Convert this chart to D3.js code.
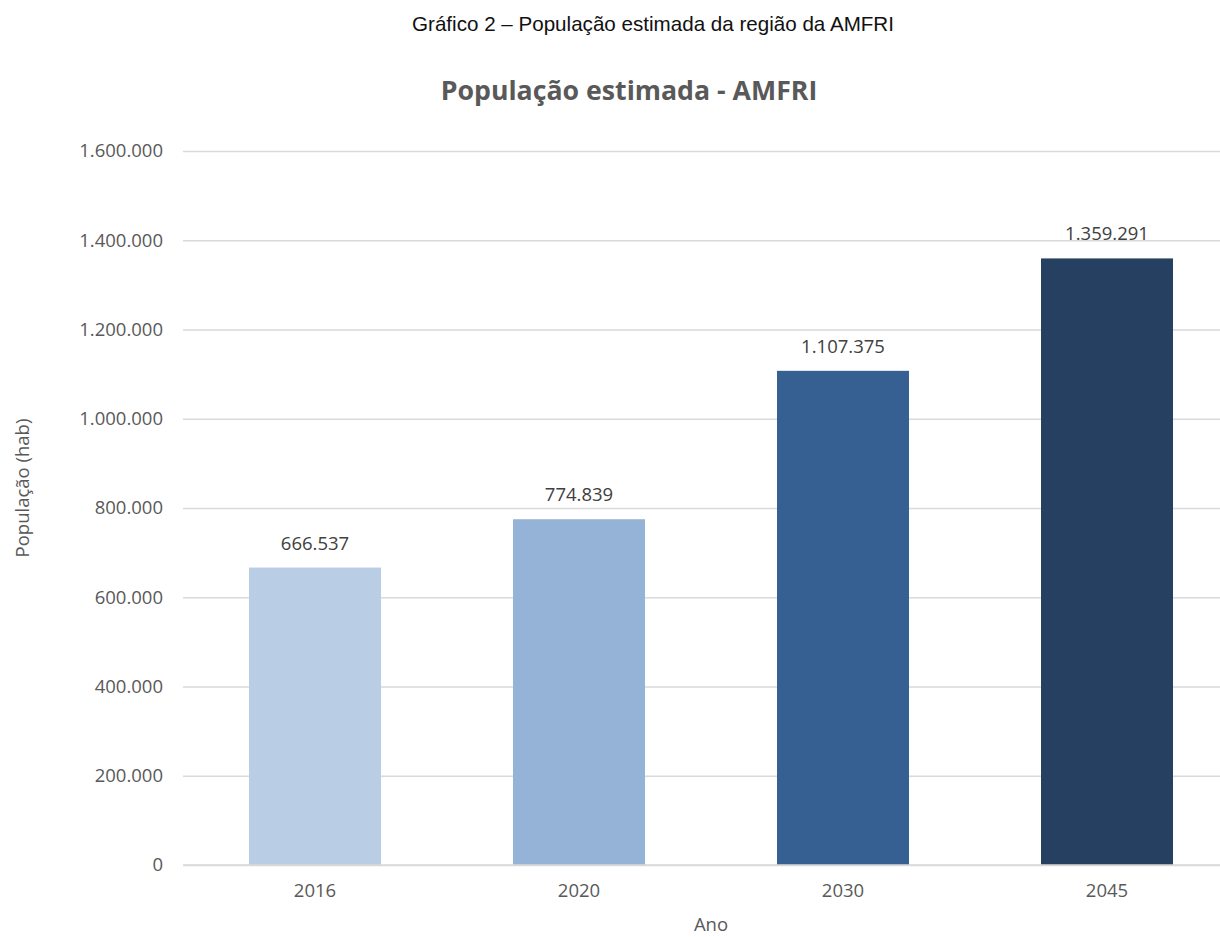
<!DOCTYPE html>
<html><head><meta charset="utf-8">
<script src="https://cdn.jsdelivr.net/npm/d3@7"></script>
<style>body{margin:0;background:#fff}svg{display:block}</style>
</head><body>
<script>
const categories = ["2016","2020","2030","2045"];
const values = [666537, 774839, 1107375, 1359291];
const colors = ["#B9CDE5","#95B3D7","#366092","#254061"];
const yTicks = [0,200000,400000,600000,800000,1000000,1200000,1400000,1600000];

const W=1220,H=937;
const svg=d3.select("body").append("svg").attr("width",W).attr("height",H);
const fmt = d => d3.format(",")(d).replace(/,/g,".");
const x=d3.scaleBand().domain(categories).range([183,1239]).paddingInner(0.5).paddingOuter(0.25);
const y=d3.scaleLinear().domain([0,1600000]).range([865,151]);
const font="'Open Sans', 'Noto Sans', sans-serif";
const fs=18.5;

svg.append("text").attr("x",653).attr("y",31).attr("text-anchor","middle")
  .attr("font-family","'Liberation Sans', Arial, sans-serif").attr("font-size",20.6).attr("fill","#111")
  .text("Gráfico 2 – População estimada da região da AMFRI");
svg.append("text").attr("x",629).attr("y",100).attr("text-anchor","middle")
  .attr("font-family",font).attr("font-weight","bold").attr("font-size",26.7).attr("fill","#595959")
  .text("População estimada - AMFRI");

const ya=svg.append("g").attr("transform","translate(183,0)")
  .call(d3.axisLeft(y).tickValues(yTicks).tickSize(-(1239-183)).tickFormat(fmt).tickPadding(20));
ya.select(".domain").remove();
ya.selectAll(".tick line").attr("stroke","#d9d9d9").attr("stroke-width",1.5);
ya.selectAll(".tick text").attr("font-family",font).attr("font-size",fs).attr("fill","#595959");

svg.append("g").selectAll("rect").data(values).join("rect")
  .attr("x",(d,i)=>x(categories[i])).attr("width",x.bandwidth())
  .attr("y",d=>y(d)).attr("height",d=>y(0)-y(d)).attr("fill",(d,i)=>colors[i]);

svg.append("line").attr("x1",183).attr("x2",1239).attr("y1",y(0)).attr("y2",y(0))
  .attr("stroke","#d9d9d9").attr("stroke-width",1.5);

svg.append("g").selectAll("text").data(values).join("text")
  .attr("x",(d,i)=>x(categories[i])+x.bandwidth()/2).attr("y",d=>y(d)-18)
  .attr("text-anchor","middle").attr("font-family",font).attr("font-size",fs).attr("fill","#404040")
  .text(fmt);

const xa=svg.append("g").attr("transform",`translate(0,${y(0)})`)
  .call(d3.axisBottom(x).tickSize(0).tickPadding(19));
xa.select(".domain").remove();
xa.selectAll(".tick text").attr("font-family",font).attr("font-size",fs).attr("fill","#595959");

svg.append("text").attr("x",711).attr("y",931).attr("text-anchor","middle")
  .attr("font-family",font).attr("font-size",fs).attr("fill","#595959").text("Ano");
svg.append("text").attr("transform","translate(29,488) rotate(-90)").attr("text-anchor","middle")
  .attr("font-family",font).attr("font-size",fs).attr("fill","#595959").text("População (hab)");
</script>
</body></html>
